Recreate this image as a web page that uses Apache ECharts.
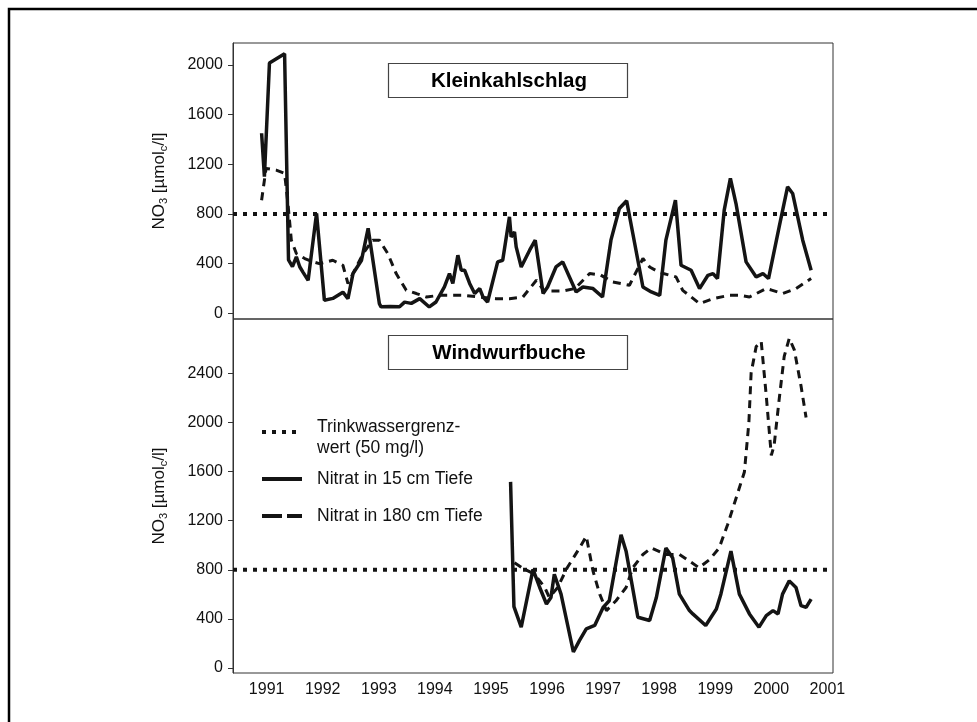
<!DOCTYPE html>
<html><head><meta charset="utf-8">
<script src="https://cdn.jsdelivr.net/npm/echarts@6/dist/echarts.min.js"></script>
<style>html,body{margin:0;padding:0;background:#fff}#c{width:977px;height:722px}</style>
</head><body><div id="c"></div>
<script>
// ---- data ----
const yearTicks = [1991,1992,1993,1994,1995,1996,1997,1998,1999,2000,2001];
const yTicksTop = [0,400,800,1200,1600,2000];
const yTicksBottom = [0,400,800,1200,1600,2000,2400];
const threshold = 800;
const panelTitles = ['Kleinkahlschlag','Windwurfbuche'];
const thresholdName = 'Trinkwassergrenz-\nwert (50 mg/l)';
const name15 = 'Nitrat in 15 cm Tiefe';
const name180 = 'Nitrat in 180 cm Tiefe';

const klein15 = [[1990.91,1450],[1990.96,1100],[1991.05,2015],[1991.32,2090],[1991.39,430],[1991.46,375],[1991.53,455],[1991.59,375],[1991.65,330],[1991.74,265],[1991.89,805],[1992.03,105],[1992.18,120],[1992.36,170],[1992.45,118],[1992.54,320],[1992.69,425],[1992.81,685],[1993.01,78],[1993.04,52],[1993.20,55],[1993.37,52],[1993.46,90],[1993.58,80],[1993.73,118],[1993.90,51],[1994.02,91],[1994.17,212],[1994.26,320],[1994.32,240],[1994.41,468],[1994.47,347],[1994.53,347],[1994.62,240],[1994.71,159],[1994.80,199],[1994.86,131],[1994.94,91],[1995.12,414],[1995.21,427],[1995.33,777],[1995.36,615],[1995.42,656],[1995.45,535],[1995.54,373],[1995.69,508],[1995.79,589],[1995.93,159],[1996.01,212],[1996.16,373],[1996.28,414],[1996.40,293],[1996.52,172],[1996.64,212],[1996.82,199],[1996.99,131],[1997.14,589],[1997.29,844],[1997.42,906],[1997.53,643],[1997.71,212],[1997.86,172],[1998.01,145],[1998.12,589],[1998.29,911],[1998.39,387],[1998.57,347],[1998.72,199],[1998.87,306],[1998.96,320],[1999.04,280],[1999.16,831],[1999.27,1086],[1999.37,884],[1999.55,414],[1999.73,293],[1999.85,320],[1999.95,280],[2000.14,696],[2000.29,1019],[2000.38,965],[2000.56,589],[2000.71,347]];
const klein180 = [[1990.91,911],[1990.99,1167],[1991.17,1153],[1991.32,1127],[1991.38,884],[1991.44,589],[1991.53,481],[1991.68,441],[1991.83,414],[1991.94,400],[1992.18,427],[1992.36,387],[1992.45,240],[1992.72,481],[1992.89,589],[1993.01,589],[1993.16,481],[1993.31,320],[1993.49,185],[1993.67,159],[1993.85,131],[1994.08,145],[1994.20,145],[1994.50,145],[1994.80,131],[1995.09,118],[1995.33,118],[1995.57,131],[1995.81,266],[1995.95,180],[1996.30,180],[1996.50,200],[1996.76,320],[1996.95,310],[1997.17,252],[1997.47,226],[1997.71,441],[1997.83,373],[1998.00,330],[1998.30,293],[1998.42,185],[1998.72,78],[1998.96,118],[1999.25,145],[1999.43,145],[1999.61,131],[1999.91,199],[2000.02,185],[2000.20,159],[2000.44,199],[2000.71,280]];
const wind15 = [[1995.35,1516],[1995.41,500],[1995.54,333],[1995.75,804],[1995.87,656],[1995.99,522],[1996.07,575],[1996.13,764],[1996.25,602],[1996.47,131],[1996.58,226],[1996.70,320],[1996.85,347],[1997.00,494],[1997.11,548],[1997.32,1086],[1997.41,952],[1997.62,414],[1997.83,387],[1997.95,575],[1998.12,978],[1998.24,898],[1998.36,602],[1998.54,468],[1998.60,441],[1998.83,347],[1999.02,481],[1999.10,602],[1999.28,952],[1999.43,602],[1999.61,441],[1999.78,333],[1999.91,427],[2000.03,468],[2000.12,441],[2000.20,602],[2000.32,710],[2000.44,656],[2000.53,508],[2000.62,494],[2000.71,562]];
const wind180 = [[1995.42,857],[1995.60,804],[1995.78,764],[1995.96,656],[1996.04,575],[1996.19,656],[1996.36,817],[1996.58,978],[1996.70,1073],[1996.82,790],[1996.94,602],[1997.06,468],[1997.23,548],[1997.41,656],[1997.53,817],[1997.71,925],[1997.86,978],[1998.12,925],[1998.36,925],[1998.54,871],[1998.71,817],[1998.90,884],[1999.07,978],[1999.22,1167],[1999.37,1381],[1999.52,1597],[1999.60,2000],[1999.64,2403],[1999.73,2618],[1999.82,2659],[1999.91,2215],[2000.00,1731],[2000.05,1812],[2000.14,2188],[2000.23,2538],[2000.32,2685],[2000.41,2591],[2000.53,2296],[2000.62,2040]];

// ---- chart ----
const FONT = '"Liberation Sans", Arial, Helvetica, sans-serif';
const INK = '#141414';
const xMin = 1990.4, xMax = 2001.1;
const yRangeTop = [-46, 2177];
const yRangeBottom = [-40, 2842];

function xAxisCfg(gridIndex, showLabels) {
  return {
    type: 'value', gridIndex, min: xMin, max: xMax,
    axisLine: {show: false}, axisTick: {show: false}, splitLine: {show: false},
    axisLabel: {show: showLabels, customValues: yearTicks, margin: 9, color: '#111', fontSize: 16, fontFamily: FONT,
      formatter: v => String(v)}
  };
}
function yAxisCfg(gridIndex, range, ticks) {
  return {
    type: 'value', gridIndex, min: range[0], max: range[1],
    axisLine: {show: true, lineStyle: {color: '#333', width: 1}},
    axisTick: {show: true, customValues: ticks, length: 5, lineStyle: {color: '#333', width: 1}},
    axisLabel: {customValues: ticks, margin: 10, color: '#111', fontSize: 16, fontFamily: FONT,
      formatter: v => String(v)},
    splitLine: {show: false},
    name: '{a|NO}{s|3}{a| [µmol}{s|c}{a|/l]}',
    nameLocation: 'middle', nameRotate: 90, nameGap: 64,
    nameTextStyle: {rich: {
      a: {fontSize: 17, fontFamily: FONT, color: '#111', lineHeight: 20},
      s: {fontSize: 11, fontFamily: FONT, color: '#111', lineHeight: 11, verticalAlign: 'bottom'}
    }}
  };
}
const legendBase = {
  orient: 'vertical', left: 260, padding: 0, itemWidth: 40, itemHeight: 10, selectedMode: false,
  itemStyle: {opacity: 0, borderWidth: 0},
};
function legendText(pad) {
  return {fontSize: 17.5, fontFamily: FONT, color: '#111', lineHeight: 21, padding: pad,
    rich: {
      e: {fontSize: 10, lineHeight: 11, fontFamily: FONT},
      t: {fontSize: 17.5, lineHeight: 21, fontFamily: FONT, color: '#111'}
    }};
}

const chart = echarts.init(document.getElementById('c'));
chart.setOption({
  animation: false,
  backgroundColor: '#fff',
  grid: [
    {left: 233, top: 43, width: 600, height: 276, show: true, borderColor: '#333', borderWidth: 1, backgroundColor: 'transparent'},
    {left: 233, top: 319, width: 600, height: 354, show: true, borderColor: '#333', borderWidth: 1, backgroundColor: 'transparent'}
  ],
  xAxis: [xAxisCfg(0, false), xAxisCfg(1, true)],
  yAxis: [yAxisCfg(0, yRangeTop, yTicksTop), yAxisCfg(1, yRangeBottom, yTicksBottom)],
  legend: [
    Object.assign({}, legendBase, {top: 405.5, data: [{name: thresholdName, lineStyle: {width: 4, type: [4, 6]}}],
      formatter: name => '{e| }\n' + name.split('\n').map(s => '{t|' + s + '}').join('\n'),
      textStyle: legendText([0, 0, 0, 10])}),
    Object.assign({}, legendBase, {top: 468.5, data: [{name: name15, lineStyle: {width: 4}}], textStyle: legendText([0, 0, 0, 10])}),
    Object.assign({}, legendBase, {top: 505.5, data: [{name: name180, lineStyle: {width: 4, type: [20, 5]}}], textStyle: legendText([0, 0, 0, 10])})
  ],
  graphic: [
    {type: 'polyline', silent: true, shape: {points: [[9, 722], [9, 9], [977, 9]]}, style: {stroke: '#000', lineWidth: 2.5, fill: null}},
    {type: 'rect', silent: true, z: 10, shape: {x: 388.5, y: 63.5, width: 239, height: 34}, style: {fill: '#fff', stroke: '#444', lineWidth: 1.2}},
    {type: 'text', silent: true, z: 11, x: 509, y: 81, style: {text: panelTitles[0], font: 'bold 20.5px ' + FONT, fill: '#000', align: 'center', verticalAlign: 'middle'}},
    {type: 'rect', silent: true, z: 10, shape: {x: 388.5, y: 335.5, width: 239, height: 34}, style: {fill: '#fff', stroke: '#444', lineWidth: 1.2}},
    {type: 'text', silent: true, z: 11, x: 509, y: 353, style: {text: panelTitles[1], font: 'bold 20.5px ' + FONT, fill: '#000', align: 'center', verticalAlign: 'middle'}}
  ],
  series: [
    {name: thresholdName, type: 'line', xAxisIndex: 0, yAxisIndex: 0, data: [[xMin, threshold], [xMax, threshold]], symbol: 'none', silent: true, lineStyle: {color: INK, width: 4, type: [4, 6]}, itemStyle: {color: INK}},
    {name: thresholdName, type: 'line', xAxisIndex: 1, yAxisIndex: 1, data: [[xMin, threshold], [xMax, threshold]], symbol: 'none', silent: true, lineStyle: {color: INK, width: 4, type: [4, 6]}, itemStyle: {color: INK}},
    {name: name15, type: 'line', xAxisIndex: 0, yAxisIndex: 0, data: klein15, symbol: 'none', lineStyle: {color: INK, width: 3.5}, itemStyle: {color: INK}},
    {name: name180, type: 'line', xAxisIndex: 0, yAxisIndex: 0, data: klein180, symbol: 'none', lineStyle: {color: INK, width: 3, type: [8, 6]}, itemStyle: {color: INK}},
    {name: name15, type: 'line', xAxisIndex: 1, yAxisIndex: 1, data: wind15, symbol: 'none', lineStyle: {color: INK, width: 3.5}, itemStyle: {color: INK}},
    {name: name180, type: 'line', xAxisIndex: 1, yAxisIndex: 1, data: wind180, symbol: 'none', lineStyle: {color: INK, width: 3, type: [8, 6]}, itemStyle: {color: INK}}
  ]
});
</script></body></html>
